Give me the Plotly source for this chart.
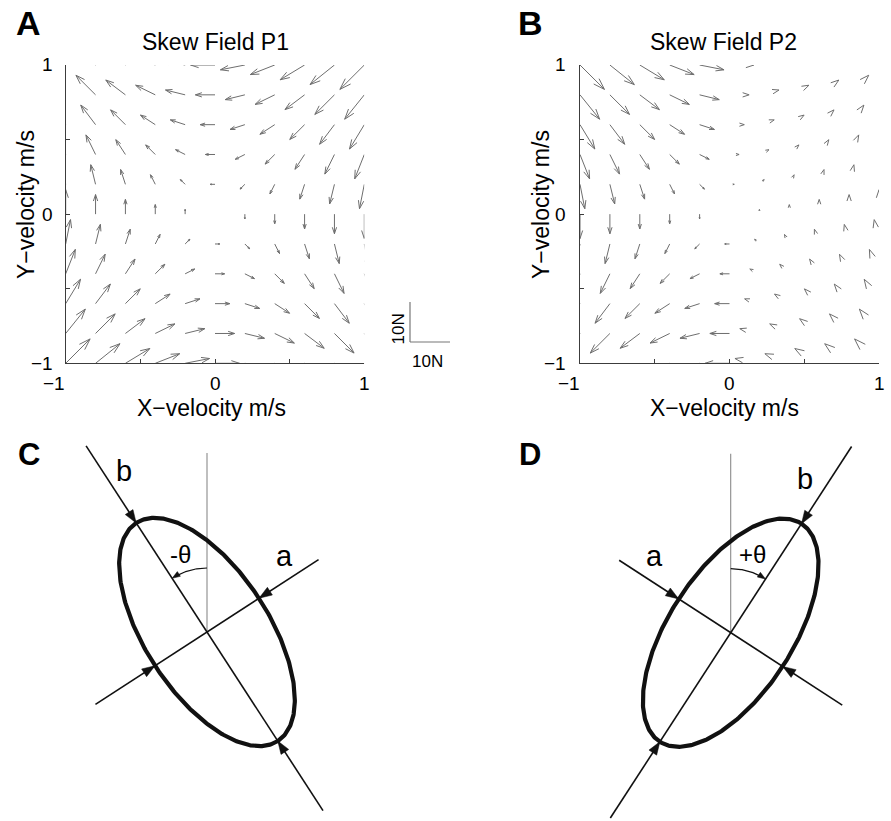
import numpy as np
import plotly.graph_objects as go

W, H = 891, 821
FONT = "Liberation Sans, Arial, Helvetica, sans-serif"

# ---------------- data ----------------
# grid of hand velocities (m/s) where the force vectors are sampled
vel = [-1.0, -0.8, -0.6, -0.4, -0.2, 0.0, 0.2, 0.4, 0.6, 0.8, 1.0]
axis_ticks = [-1.0, -0.5, 0.0, 0.5, 1.0]
tick_vals = [-1, 0, 1]
tick_text = ["\u22121", "0", "1"]

# Skew field P1 forces (N); rows = y-velocity -1..1, columns = x-velocity -1..1
fx_p1 = [
    [6.1, 6.1, 6.1, 6.1, 6.1, 6.1, 6.1, 6.1, 6.1, 6.1, 6.1],
    [4.9, 4.9, 4.9, 4.9, 4.9, 4.9, 4.9, 4.9, 4.9, 4.9, 4.9],
    [3.7, 3.7, 3.7, 3.7, 3.7, 3.7, 3.7, 3.7, 3.7, 3.7, 3.7],
    [2.4, 2.4, 2.4, 2.4, 2.4, 2.4, 2.4, 2.4, 2.4, 2.4, 2.4],
    [1.2, 1.2, 1.2, 1.2, 1.2, 1.2, 1.2, 1.2, 1.2, 1.2, 1.2],
    [0.0, 0.0, 0.0, 0.0, 0.0, 0.0, 0.0, 0.0, 0.0, 0.0, 0.0],
    [-1.2, -1.2, -1.2, -1.2, -1.2, -1.2, -1.2, -1.2, -1.2, -1.2, -1.2],
    [-2.4, -2.4, -2.4, -2.4, -2.4, -2.4, -2.4, -2.4, -2.4, -2.4, -2.4],
    [-3.7, -3.7, -3.7, -3.7, -3.7, -3.7, -3.7, -3.7, -3.7, -3.7, -3.7],
    [-4.9, -4.9, -4.9, -4.9, -4.9, -4.9, -4.9, -4.9, -4.9, -4.9, -4.9],
    [-6.1, -6.1, -6.1, -6.1, -6.1, -6.1, -6.1, -6.1, -6.1, -6.1, -6.1],
]
fy_p1 = [
    [6.1, 4.9, 3.7, 2.4, 1.2, 0.0, -1.2, -2.4, -3.7, -4.9, -6.1],
    [6.1, 4.9, 3.7, 2.4, 1.2, 0.0, -1.2, -2.4, -3.7, -4.9, -6.1],
    [6.1, 4.9, 3.7, 2.4, 1.2, 0.0, -1.2, -2.4, -3.7, -4.9, -6.1],
    [6.1, 4.9, 3.7, 2.4, 1.2, 0.0, -1.2, -2.4, -3.7, -4.9, -6.1],
    [6.1, 4.9, 3.7, 2.4, 1.2, 0.0, -1.2, -2.4, -3.7, -4.9, -6.1],
    [6.1, 4.9, 3.7, 2.4, 1.2, 0.0, -1.2, -2.4, -3.7, -4.9, -6.1],
    [6.1, 4.9, 3.7, 2.4, 1.2, 0.0, -1.2, -2.4, -3.7, -4.9, -6.1],
    [6.1, 4.9, 3.7, 2.4, 1.2, 0.0, -1.2, -2.4, -3.7, -4.9, -6.1],
    [6.1, 4.9, 3.7, 2.4, 1.2, 0.0, -1.2, -2.4, -3.7, -4.9, -6.1],
    [6.1, 4.9, 3.7, 2.4, 1.2, 0.0, -1.2, -2.4, -3.7, -4.9, -6.1],
    [6.1, 4.9, 3.7, 2.4, 1.2, 0.0, -1.2, -2.4, -3.7, -4.9, -6.1],
]
# Skew field P2 forces (N)
fx_p2 = [
    [-6.1, -6.1, -6.1, -6.1, -6.1, -6.1, -6.1, -6.1, -6.1, -6.1, -6.1],
    [-4.9, -4.9, -4.9, -4.9, -4.9, -4.9, -4.9, -4.9, -4.9, -4.9, -4.9],
    [-3.7, -3.7, -3.7, -3.7, -3.7, -3.7, -3.7, -3.7, -3.7, -3.7, -3.7],
    [-2.4, -2.4, -2.4, -2.4, -2.4, -2.4, -2.4, -2.4, -2.4, -2.4, -2.4],
    [-1.2, -1.2, -1.2, -1.2, -1.2, -1.2, -1.2, -1.2, -1.2, -1.2, -1.2],
    [0.0, 0.0, 0.0, 0.0, 0.0, 0.0, 0.0, 0.0, 0.0, 0.0, 0.0],
    [1.2, 1.2, 1.2, 1.2, 1.2, 1.2, 1.2, 1.2, 1.2, 1.2, 1.2],
    [2.4, 2.4, 2.4, 2.4, 2.4, 2.4, 2.4, 2.4, 2.4, 2.4, 2.4],
    [3.7, 3.7, 3.7, 3.7, 3.7, 3.7, 3.7, 3.7, 3.7, 3.7, 3.7],
    [4.9, 4.9, 4.9, 4.9, 4.9, 4.9, 4.9, 4.9, 4.9, 4.9, 4.9],
    [6.1, 6.1, 6.1, 6.1, 6.1, 6.1, 6.1, 6.1, 6.1, 6.1, 6.1],
]
fy_p2 = [
    [-6.1, -4.9, -3.7, -2.4, -1.2, 0.0, 1.2, 2.4, 3.7, 4.9, 6.1],
    [-6.1, -4.9, -3.7, -2.4, -1.2, 0.0, 1.2, 2.4, 3.7, 4.9, 6.1],
    [-6.1, -4.9, -3.7, -2.4, -1.2, 0.0, 1.2, 2.4, 3.7, 4.9, 6.1],
    [-6.1, -4.9, -3.7, -2.4, -1.2, 0.0, 1.2, 2.4, 3.7, 4.9, 6.1],
    [-6.1, -4.9, -3.7, -2.4, -1.2, 0.0, 1.2, 2.4, 3.7, 4.9, 6.1],
    [-6.1, -4.9, -3.7, -2.4, -1.2, 0.0, 1.2, 2.4, 3.7, 4.9, 6.1],
    [-6.1, -4.9, -3.7, -2.4, -1.2, 0.0, 1.2, 2.4, 3.7, 4.9, 6.1],
    [-6.1, -4.9, -3.7, -2.4, -1.2, 0.0, 1.2, 2.4, 3.7, 4.9, 6.1],
    [-6.1, -4.9, -3.7, -2.4, -1.2, 0.0, 1.2, 2.4, 3.7, 4.9, 6.1],
    [-6.1, -4.9, -3.7, -2.4, -1.2, 0.0, 1.2, 2.4, 3.7, 4.9, 6.1],
    [-6.1, -4.9, -3.7, -2.4, -1.2, 0.0, 1.2, 2.4, 3.7, 4.9, 6.1],
]
scale_bar_newtons = 10

# ellipse schematic (panels C, D)
theta_deg = 33.0
semi_a = 62.0     # minor semi-axis
semi_b = 130.0    # major semi-axis

# ---------------- style / layout ----------------
ARROW = "#6e6e6e"
AXIS = "#3c3c3c"
N_TO_VEL = 0.0268          # arrow length (axis units) per newton
ALPHA, BETA = 0.33, 0.33   # quiver head proportions


def px2paper(px, py):
    return px / W, 1 - py / H


A_dom_x = [65.7 / W, 364.3 / W]
B_dom_x = [580.0 / W, 879.0 / W]
AB_dom_y = [1 - 363.3 / H, 1 - 65.0 / H]


def quiver(fx, fy, heads_only_upward=False):
    xs, ys = [], []
    for i, yv in enumerate(vel):
        for j, xv in enumerate(vel):
            u = fx[i][j] * N_TO_VEL
            v = fy[i][j] * N_TO_VEL
            tx, ty = xv + u, yv + v
            no_shaft = heads_only_upward and (v > 0 or (v == 0 and u > 0))
            if not no_shaft:
                xs += [xv, tx, None]
                ys += [yv, ty, None]
            if u == 0 and v == 0:
                continue
            w1x = tx - ALPHA * (u + BETA * v)
            w1y = ty - ALPHA * (v - BETA * u)
            w2x = tx - ALPHA * (u - BETA * v)
            w2y = ty - ALPHA * (v + BETA * u)
            xs += [w1x, tx, w2x, None]
            ys += [w1y, ty, w2y, None]
    return xs, ys


fig = go.Figure()

xa, ya = quiver(fx_p1, fy_p1)
fig.add_trace(go.Scatter(x=xa, y=ya, mode="lines", line=dict(color=ARROW, width=1),
                         xaxis="x", yaxis="y", hoverinfo="skip", showlegend=False))
xb, yb = quiver(fx_p2, fy_p2, heads_only_upward=True)
fig.add_trace(go.Scatter(x=xb, y=yb, mode="lines", line=dict(color=ARROW, width=1),
                         xaxis="x2", yaxis="y2", hoverinfo="skip", showlegend=False))


# ---------------- ellipse diagrams ----------------
def triangle(tip, d, L, Wd):
    d = np.asarray(d, float)
    d = d / np.linalg.norm(d)
    tip = np.asarray(tip, float)
    base = tip - L * d
    perp = np.array([-d[1], d[0]])
    p1 = base + Wd * perp
    p2 = base - Wd * perp
    return [p1[0], tip[0], p2[0], p1[0], None], [p1[1], tip[1], p2[1], p1[1], None]


def diagram(sign, ext_top, ext_bot, xaxis, yaxis):
    th = np.radians(theta_deg)
    ub = np.array([sign * np.sin(th), np.cos(th)])
    ua = np.array([np.cos(th), -sign * np.sin(th)])
    # vertical reference line
    fig.add_trace(go.Scatter(x=[0, 0], y=[0, 179], mode="lines",
                             line=dict(color="#8a8a8a", width=1.1),
                             xaxis=xaxis, yaxis=yaxis, hoverinfo="skip", showlegend=False))
    # axis lines
    lx = [-ext_bot * ub[0], ext_top * ub[0], None, -133 * ua[0], 133 * ua[0]]
    ly = [-ext_bot * ub[1], ext_top * ub[1], None, -133 * ua[1], 133 * ua[1]]
    fig.add_trace(go.Scatter(x=lx, y=ly, mode="lines", line=dict(color="#111111", width=1.6),
                             xaxis=xaxis, yaxis=yaxis, hoverinfo="skip", showlegend=False))
    # ellipse
    t = np.linspace(0, 2 * np.pi, 361)
    ex = semi_b * np.cos(t) * ub[0] + semi_a * np.sin(t) * ua[0]
    ey = semi_b * np.cos(t) * ub[1] + semi_a * np.sin(t) * ua[1]
    fig.add_trace(go.Scatter(x=ex, y=ey, mode="lines", line=dict(color="#111111", width=4.2),
                             xaxis=xaxis, yaxis=yaxis, hoverinfo="skip", showlegend=False))
    # inward arrowheads at the ellipse/axis intersections
    tx, ty = [], []
    for vec, r in ((ub, semi_b), (-ub, semi_b), (ua, semi_a), (-ua, semi_a)):
        tip = vec * r
        a, b = triangle(tip, -vec, 13, 4.6)
        tx += a
        ty += b
    # angle arc
    r = 64
    phi = np.radians(np.linspace(90, 90 - sign * theta_deg, 40))
    ax_ = r * np.cos(phi)
    ay_ = r * np.sin(phi)
    fig.add_trace(go.Scatter(x=ax_[:-3], y=ay_[:-3], mode="lines", line=dict(color="#111111", width=1.2),
                             xaxis=xaxis, yaxis=yaxis, hoverinfo="skip", showlegend=False))
    pe = phi[-1]
    tang = -sign * np.array([-np.sin(pe), np.cos(pe)])
    a, b = triangle([ax_[-1], ay_[-1]], tang, 8, 2.8)
    tx += a
    ty += b
    fig.add_trace(go.Scatter(x=tx, y=ty, mode="lines", fill="toself", fillcolor="#111111",
                             line=dict(color="#111111", width=0.5),
                             xaxis=xaxis, yaxis=yaxis, hoverinfo="skip", showlegend=False))


diagram(-1, 222, 213, "x3", "y3")
diagram(+1, 222, 221, "x4", "y4")

# ---------------- axes ----------------
common = dict(range=[-1, 1], showgrid=False, zeroline=False, showline=True, linecolor=AXIS,
              linewidth=1, ticks="inside", ticklen=4, tickcolor=AXIS, tickwidth=1,
              tickvals=axis_ticks, showticklabels=False, fixedrange=True)
hidden = dict(visible=False, showgrid=False, zeroline=False, fixedrange=True)
low_y = [0, 401 / H]

fig.update_layout(
    width=W, height=H, margin=dict(l=0, r=0, t=0, b=0),
    paper_bgcolor="white", plot_bgcolor="rgba(0,0,0,0)", showlegend=False,
    xaxis=dict(domain=A_dom_x, anchor="y", **common),
    yaxis=dict(domain=AB_dom_y, anchor="x", **common),
    xaxis2=dict(domain=B_dom_x, anchor="y2", **common),
    yaxis2=dict(domain=AB_dom_y, anchor="x2", **common),
    xaxis3=dict(domain=[0, 0.5], anchor="y3", range=[-207, 238.5], **hidden),
    yaxis3=dict(domain=low_y, anchor="x3", range=[-189, 212], **hidden),
    xaxis4=dict(domain=[0.5, 1], anchor="y4", range=[-285.2, 160.3], **hidden),
    yaxis4=dict(domain=low_y, anchor="x4", range=[-188.3, 212.7], **hidden),
)

# ---------------- text ----------------
ann = []


def txt(text, px, py, size, angle=0, xanchor="center", bold=False):
    x, y = px2paper(px, py)
    if bold:
        text = "<b>" + text + "</b>"
    ann.append(dict(text=text, x=x, y=y, xref="paper", yref="paper", showarrow=False,
                    xanchor=xanchor, yanchor="middle", textangle=angle,
                    font=dict(family=FONT, size=size, color="#000000")))


# panel letters
txt("A", 28.5, 22.6, 34, bold=True)
txt("B", 530, 22.6, 34, bold=True)
txt("C", 28.5, 454.6, 31, bold=True)
txt("D", 30, 454.6, 31, bold=True)
ann[-1]["x"] = 530 / W

# titles and axis titles
txt("Skew Field P1", 215, 42.5, 23)
txt("Skew Field P2", 723, 42.5, 23)
txt("X\u2212velocity m/s", 211, 407.5, 23)
txt("X\u2212velocity m/s", 724, 407.5, 23)
txt("Y\u2212velocity m/s", 26, 205, 23, angle=-90)
txt("Y\u2212velocity m/s", 541, 205, 23, angle=-90)

# tick labels
for xr, yr, left_px in (("x", "y", 54.5), ("x2", "y2", 567.5)):
    for v, t in zip(tick_vals, tick_text):
        ann.append(dict(text=t, x=v, y=1 - 383.5 / H, xref=xr, yref="paper", showarrow=False,
                        xanchor="right" if v < 0 else "center", xshift=1.5 if v < 0 else 0,
                        yanchor="middle", font=dict(family=FONT, size=19, color="#000000")))
        ann.append(dict(text=t, x=left_px / W, y=v, xref="paper", yref=yr, showarrow=False,
                        xanchor="right", yanchor="middle",
                        font=dict(family=FONT, size=19, color="#000000")))

# scale bar (10 N)
bar_px = scale_bar_newtons * N_TO_VEL * (364.3 - 65.7) / 2
x0, y0 = px2paper(410, 342)
x1, _ = px2paper(410 + bar_px, 342)
_, y1 = px2paper(410, 342 - bar_px)
fig.add_shape(type="line", xref="paper", yref="paper", x0=x0, y0=y0, x1=x1, y1=y0,
              line=dict(color="#777777", width=1.2))
fig.add_shape(type="line", xref="paper", yref="paper", x0=x0, y0=y0, x1=x0, y1=y1,
              line=dict(color="#777777", width=1.2))
txt("10N", 397.5, 329, 17, angle=-90)
txt("10N", 427.5, 361.5, 17)

# ellipse labels
txt("b", 124, 470.6, 29)
txt("a", 284, 555.6, 29)
txt("-\u03b8", 180.8, 554.9, 24)
txt("b", 805, 478.6, 29)
txt("a", 654, 555.6, 29)
txt("+\u03b8", 752.5, 554.9, 24)

fig.update_layout(annotations=ann)
fig.write_html("out.html", config={"displayModeBar": False},
               post_script="document.body.style.margin='0';document.body.style.overflow='hidden';")
